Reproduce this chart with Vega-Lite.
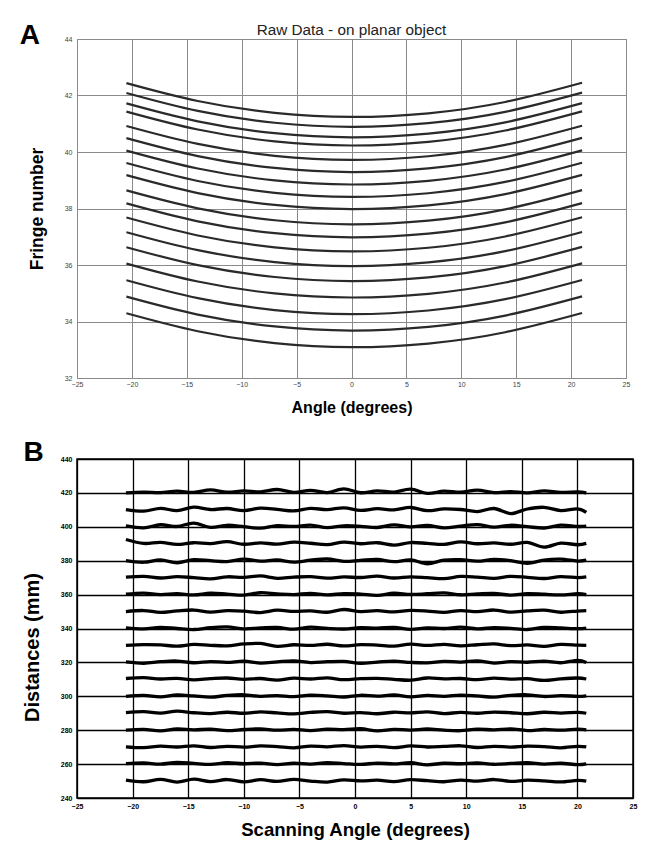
{
"$schema": "https://vega.github.io/schema/vega-lite/v6.json",
"padding": {"left": 19, "top": 21, "right": 5, "bottom": 2},
"background": "white",
"spacing": 22,
"config": {"font": "Liberation Sans", "axis": {"labelFont": "Liberation Sans", "titleFont": "Liberation Sans"}},
"datasets": {
"top": [
{"c":1,"x":-20.5,"y":42.44},{"c":1,"x":-14,"y":41.805},{"c":1,"x":-7,"y":41.385},{"c":1,"x":0,"y":41.24},{"c":1,"x":7,"y":41.37},{"c":1,"x":14,"y":41.77},{"c":1,"x":21,"y":42.45},
{"c":2,"x":-20.5,"y":42.09},{"c":2,"x":-14,"y":41.455},{"c":2,"x":-7,"y":41.035},{"c":2,"x":0,"y":40.89},{"c":2,"x":7,"y":41.02},{"c":2,"x":14,"y":41.42},{"c":2,"x":21,"y":42.10},
{"c":3,"x":-20.5,"y":41.72},{"c":3,"x":-14,"y":41.085},{"c":3,"x":-7,"y":40.665},{"c":3,"x":0,"y":40.52},{"c":3,"x":7,"y":40.65},{"c":3,"x":14,"y":41.05},{"c":3,"x":21,"y":41.73},
{"c":4,"x":-20.5,"y":41.43},{"c":4,"x":-14,"y":40.795},{"c":4,"x":-7,"y":40.375},{"c":4,"x":0,"y":40.23},{"c":4,"x":7,"y":40.36},{"c":4,"x":14,"y":40.76},{"c":4,"x":21,"y":41.44},
{"c":5,"x":-20.5,"y":40.92},{"c":5,"x":-14,"y":40.285},{"c":5,"x":-7,"y":39.865},{"c":5,"x":0,"y":39.72},{"c":5,"x":7,"y":39.85},{"c":5,"x":14,"y":40.25},{"c":5,"x":21,"y":40.93},
{"c":6,"x":-20.5,"y":40.49},{"c":6,"x":-14,"y":39.855},{"c":6,"x":-7,"y":39.435},{"c":6,"x":0,"y":39.29},{"c":6,"x":7,"y":39.42},{"c":6,"x":14,"y":39.82},{"c":6,"x":21,"y":40.50},
{"c":7,"x":-20.5,"y":40.05},{"c":7,"x":-14,"y":39.415},{"c":7,"x":-7,"y":38.995},{"c":7,"x":0,"y":38.85},{"c":7,"x":7,"y":38.98},{"c":7,"x":14,"y":39.38},{"c":7,"x":21,"y":40.06},
{"c":8,"x":-20.5,"y":39.61},{"c":8,"x":-14,"y":38.975},{"c":8,"x":-7,"y":38.555},{"c":8,"x":0,"y":38.41},{"c":8,"x":7,"y":38.54},{"c":8,"x":14,"y":38.94},{"c":8,"x":21,"y":39.62},
{"c":9,"x":-20.5,"y":39.18},{"c":9,"x":-14,"y":38.545},{"c":9,"x":-7,"y":38.125},{"c":9,"x":0,"y":37.98},{"c":9,"x":7,"y":38.11},{"c":9,"x":14,"y":38.51},{"c":9,"x":21,"y":39.19},
{"c":10,"x":-20.5,"y":38.64},{"c":10,"x":-14,"y":38.005},{"c":10,"x":-7,"y":37.585},{"c":10,"x":0,"y":37.44},{"c":10,"x":7,"y":37.57},{"c":10,"x":14,"y":37.97},{"c":10,"x":21,"y":38.65},
{"c":11,"x":-20.5,"y":38.18},{"c":11,"x":-14,"y":37.545},{"c":11,"x":-7,"y":37.125},{"c":11,"x":0,"y":36.98},{"c":11,"x":7,"y":37.11},{"c":11,"x":14,"y":37.51},{"c":11,"x":21,"y":38.19},
{"c":12,"x":-20.5,"y":37.68},{"c":12,"x":-14,"y":37.045},{"c":12,"x":-7,"y":36.625},{"c":12,"x":0,"y":36.48},{"c":12,"x":7,"y":36.61},{"c":12,"x":14,"y":37.01},{"c":12,"x":21,"y":37.69},
{"c":13,"x":-20.5,"y":37.16},{"c":13,"x":-14,"y":36.525},{"c":13,"x":-7,"y":36.105},{"c":13,"x":0,"y":35.96},{"c":13,"x":7,"y":36.09},{"c":13,"x":14,"y":36.49},{"c":13,"x":21,"y":37.17},
{"c":14,"x":-20.5,"y":36.63},{"c":14,"x":-14,"y":35.995},{"c":14,"x":-7,"y":35.575},{"c":14,"x":0,"y":35.43},{"c":14,"x":7,"y":35.56},{"c":14,"x":14,"y":35.96},{"c":14,"x":21,"y":36.64},
{"c":15,"x":-20.5,"y":36.05},{"c":15,"x":-14,"y":35.415},{"c":15,"x":-7,"y":34.995},{"c":15,"x":0,"y":34.85},{"c":15,"x":7,"y":34.98},{"c":15,"x":14,"y":35.38},{"c":15,"x":21,"y":36.06},
{"c":16,"x":-20.5,"y":35.46},{"c":16,"x":-14,"y":34.825},{"c":16,"x":-7,"y":34.405},{"c":16,"x":0,"y":34.26},{"c":16,"x":7,"y":34.39},{"c":16,"x":14,"y":34.79},{"c":16,"x":21,"y":35.47},
{"c":17,"x":-20.5,"y":34.88},{"c":17,"x":-14,"y":34.245},{"c":17,"x":-7,"y":33.825},{"c":17,"x":0,"y":33.68},{"c":17,"x":7,"y":33.81},{"c":17,"x":14,"y":34.21},{"c":17,"x":21,"y":34.89},
{"c":18,"x":-20.5,"y":34.29},{"c":18,"x":-14,"y":33.655},{"c":18,"x":-7,"y":33.235},{"c":18,"x":0,"y":33.09},{"c":18,"x":7,"y":33.22},{"c":18,"x":14,"y":33.62},{"c":18,"x":21,"y":34.30}
],
"labelsTop": [
{"x": -29.3, "y": 43.82, "t": "A", "k": "letter"},
{"x": 0, "y": 44.14, "t": "Raw Data - on planar object", "k": "title"}
],
"bot": [
{"s":420,"x":-20.6,"y":420},{"s":420,"x":-19,"y":420.5},{"s":420,"x":-17.5,"y":420.2},{"s":420,"x":-16,"y":421},{"s":420,"x":-14.5,"y":420.3},{"s":420,"x":-13,"y":421.8},{"s":420,"x":-11.5,"y":420.4},{"s":420,"x":-10,"y":421.2},{"s":420,"x":-8.5,"y":420.6},{"s":420,"x":-7,"y":422},{"s":420,"x":-5.5,"y":420.3},{"s":420,"x":-4,"y":421.5},{"s":420,"x":-2.5,"y":420.2},{"s":420,"x":-1,"y":422.4},{"s":420,"x":0.5,"y":420.1},{"s":420,"x":2,"y":421.2},{"s":420,"x":3.5,"y":420.5},{"s":420,"x":5,"y":422.2},{"s":420,"x":6.5,"y":419.7},{"s":420,"x":8,"y":421},{"s":420,"x":9.5,"y":420.4},{"s":420,"x":11,"y":421.6},{"s":420,"x":12.5,"y":420.2},{"s":420,"x":14,"y":420.8},{"s":420,"x":15.5,"y":420},{"s":420,"x":17,"y":421.2},{"s":420,"x":18.5,"y":420.3},{"s":420,"x":20,"y":420.6},{"s":420,"x":20.8,"y":420},
{"s":410,"x":-20.6,"y":410.2},{"s":410,"x":-19,"y":409.2},{"s":410,"x":-17.5,"y":410.9},{"s":410,"x":-16,"y":409.5},{"s":410,"x":-14.5,"y":411.6},{"s":410,"x":-13,"y":410.2},{"s":410,"x":-11.5,"y":410.8},{"s":410,"x":-10,"y":409.6},{"s":410,"x":-8.5,"y":411},{"s":410,"x":-7,"y":410.3},{"s":410,"x":-5.5,"y":409.4},{"s":410,"x":-4,"y":410.9},{"s":410,"x":-2.5,"y":410.1},{"s":410,"x":-1,"y":411.2},{"s":410,"x":0.5,"y":409.7},{"s":410,"x":2,"y":410.7},{"s":410,"x":3.5,"y":410},{"s":410,"x":5,"y":411.4},{"s":410,"x":6.5,"y":409.5},{"s":410,"x":8,"y":410.6},{"s":410,"x":9.5,"y":410.2},{"s":410,"x":11,"y":409},{"s":410,"x":12.5,"y":410.8},{"s":410,"x":14,"y":407.8},{"s":410,"x":15.5,"y":410.5},{"s":410,"x":17,"y":411.5},{"s":410,"x":18.5,"y":409.6},{"s":410,"x":20,"y":410.6},{"s":410,"x":20.8,"y":408.5},
{"s":400,"x":-20.6,"y":400.5},{"s":400,"x":-19,"y":399.4},{"s":400,"x":-17.5,"y":401.2},{"s":400,"x":-16,"y":400.2},{"s":400,"x":-14.5,"y":402.2},{"s":400,"x":-13,"y":399.7},{"s":400,"x":-11.5,"y":400.9},{"s":400,"x":-10,"y":400.1},{"s":400,"x":-8.5,"y":399.2},{"s":400,"x":-7,"y":400.7},{"s":400,"x":-5.5,"y":400.2},{"s":400,"x":-4,"y":401},{"s":400,"x":-2.5,"y":399.5},{"s":400,"x":-1,"y":400.6},{"s":400,"x":0.5,"y":400.3},{"s":400,"x":2,"y":399.6},{"s":400,"x":3.5,"y":401.1},{"s":400,"x":5,"y":400},{"s":400,"x":6.5,"y":400.8},{"s":400,"x":8,"y":399.4},{"s":400,"x":9.5,"y":400.4},{"s":400,"x":11,"y":401.3},{"s":400,"x":12.5,"y":399.8},{"s":400,"x":14,"y":400.9},{"s":400,"x":15.5,"y":400.1},{"s":400,"x":17,"y":399.3},{"s":400,"x":18.5,"y":401},{"s":400,"x":20,"y":400.2},{"s":400,"x":20.8,"y":400.4},
{"s":390,"x":-20.6,"y":392.5},{"s":390,"x":-19,"y":390.2},{"s":390,"x":-17.5,"y":390.8},{"s":390,"x":-16,"y":389.6},{"s":390,"x":-14.5,"y":390.6},{"s":390,"x":-13,"y":390.1},{"s":390,"x":-11.5,"y":391.2},{"s":390,"x":-10,"y":389.7},{"s":390,"x":-8.5,"y":390.5},{"s":390,"x":-7,"y":389.8},{"s":390,"x":-5.5,"y":390.9},{"s":390,"x":-4,"y":390.3},{"s":390,"x":-2.5,"y":389.5},{"s":390,"x":-1,"y":391},{"s":390,"x":0.5,"y":390},{"s":390,"x":2,"y":390.6},{"s":390,"x":3.5,"y":389.2},{"s":390,"x":5,"y":390.7},{"s":390,"x":6.5,"y":390.2},{"s":390,"x":8,"y":389.6},{"s":390,"x":9.5,"y":391.1},{"s":390,"x":11,"y":390},{"s":390,"x":12.5,"y":390.5},{"s":390,"x":14,"y":389.7},{"s":390,"x":15.5,"y":390.8},{"s":390,"x":17,"y":388},{"s":390,"x":18.5,"y":390.4},{"s":390,"x":20,"y":389.4},{"s":390,"x":20.8,"y":390.2},
{"s":380,"x":-20.6,"y":380},{"s":380,"x":-19,"y":379.1},{"s":380,"x":-17.5,"y":380.5},{"s":380,"x":-16,"y":378.8},{"s":380,"x":-14.5,"y":380.6},{"s":380,"x":-13,"y":380},{"s":380,"x":-11.5,"y":379.5},{"s":380,"x":-10,"y":380.9},{"s":380,"x":-8.5,"y":379.8},{"s":380,"x":-7,"y":380.4},{"s":380,"x":-5.5,"y":379.2},{"s":380,"x":-4,"y":380.3},{"s":380,"x":-2.5,"y":381},{"s":380,"x":-1,"y":379.6},{"s":380,"x":0.5,"y":380.2},{"s":380,"x":2,"y":380.7},{"s":380,"x":3.5,"y":379.4},{"s":380,"x":5,"y":380.5},{"s":380,"x":6.5,"y":378.2},{"s":380,"x":8,"y":380.3},{"s":380,"x":9.5,"y":380.6},{"s":380,"x":11,"y":379.7},{"s":380,"x":12.5,"y":380.8},{"s":380,"x":14,"y":380},{"s":380,"x":15.5,"y":378.5},{"s":380,"x":17,"y":380.4},{"s":380,"x":18.5,"y":380.9},{"s":380,"x":20,"y":379.8},{"s":380,"x":20.8,"y":380.3},
{"s":370,"x":-20.6,"y":370.3},{"s":370,"x":-19,"y":370.8},{"s":370,"x":-17.5,"y":369.8},{"s":370,"x":-16,"y":370.6},{"s":370,"x":-14.5,"y":370},{"s":370,"x":-13,"y":369.3},{"s":370,"x":-11.5,"y":370.5},{"s":370,"x":-10,"y":370.2},{"s":370,"x":-8.5,"y":371},{"s":370,"x":-7,"y":369.6},{"s":370,"x":-5.5,"y":370.3},{"s":370,"x":-4,"y":370.6},{"s":370,"x":-2.5,"y":369.7},{"s":370,"x":-1,"y":370.4},{"s":370,"x":0.5,"y":370.1},{"s":370,"x":2,"y":370.9},{"s":370,"x":3.5,"y":369.8},{"s":370,"x":5,"y":370.5},{"s":370,"x":6.5,"y":370},{"s":370,"x":8,"y":369.4},{"s":370,"x":9.5,"y":370.7},{"s":370,"x":11,"y":370.3},{"s":370,"x":12.5,"y":369.6},{"s":370,"x":14,"y":370.8},{"s":370,"x":15.5,"y":370.2},{"s":370,"x":17,"y":369.5},{"s":370,"x":18.5,"y":370.6},{"s":370,"x":20,"y":370},{"s":370,"x":20.8,"y":370.4},
{"s":360,"x":-20.6,"y":360.2},{"s":360,"x":-19,"y":360.9},{"s":360,"x":-17.5,"y":360},{"s":360,"x":-16,"y":360.5},{"s":360,"x":-14.5,"y":359.8},{"s":360,"x":-13,"y":360.8},{"s":360,"x":-11.5,"y":360.3},{"s":360,"x":-10,"y":359.7},{"s":360,"x":-8.5,"y":361.1},{"s":360,"x":-7,"y":360.4},{"s":360,"x":-5.5,"y":360},{"s":360,"x":-4,"y":360.7},{"s":360,"x":-2.5,"y":359.8},{"s":360,"x":-1,"y":360.6},{"s":360,"x":0.5,"y":360.3},{"s":360,"x":2,"y":359.6},{"s":360,"x":3.5,"y":360.8},{"s":360,"x":5,"y":360.1},{"s":360,"x":6.5,"y":360.5},{"s":360,"x":8,"y":361},{"s":360,"x":9.5,"y":359.9},{"s":360,"x":11,"y":360.4},{"s":360,"x":12.5,"y":360.7},{"s":360,"x":14,"y":359.7},{"s":360,"x":15.5,"y":360.6},{"s":360,"x":17,"y":360.2},{"s":360,"x":18.5,"y":359.8},{"s":360,"x":20,"y":360.5},{"s":360,"x":20.8,"y":360},
{"s":350,"x":-20.6,"y":350},{"s":350,"x":-19,"y":350.6},{"s":350,"x":-17.5,"y":349.5},{"s":350,"x":-16,"y":350.4},{"s":350,"x":-14.5,"y":350.9},{"s":350,"x":-13,"y":349.7},{"s":350,"x":-11.5,"y":350.5},{"s":350,"x":-10,"y":350.2},{"s":350,"x":-8.5,"y":349.4},{"s":350,"x":-7,"y":350.8},{"s":350,"x":-5.5,"y":350.1},{"s":350,"x":-4,"y":350.4},{"s":350,"x":-2.5,"y":349.6},{"s":350,"x":-1,"y":351.2},{"s":350,"x":0.5,"y":350},{"s":350,"x":2,"y":350.5},{"s":350,"x":3.5,"y":349.8},{"s":350,"x":5,"y":350.7},{"s":350,"x":6.5,"y":350.3},{"s":350,"x":8,"y":349.5},{"s":350,"x":9.5,"y":350.6},{"s":350,"x":11,"y":350},{"s":350,"x":12.5,"y":350.9},{"s":350,"x":14,"y":349.7},{"s":350,"x":15.5,"y":350.4},{"s":350,"x":17,"y":350.8},{"s":350,"x":18.5,"y":349.6},{"s":350,"x":20,"y":350.3},{"s":350,"x":20.8,"y":350.6},
{"s":340,"x":-20.6,"y":340.4},{"s":340,"x":-19,"y":339.8},{"s":340,"x":-17.5,"y":340.7},{"s":340,"x":-16,"y":340},{"s":340,"x":-14.5,"y":339.4},{"s":340,"x":-13,"y":340.5},{"s":340,"x":-11.5,"y":340.9},{"s":340,"x":-10,"y":339.8},{"s":340,"x":-8.5,"y":340.3},{"s":340,"x":-7,"y":340.6},{"s":340,"x":-5.5,"y":339.6},{"s":340,"x":-4,"y":340.8},{"s":340,"x":-2.5,"y":340.1},{"s":340,"x":-1,"y":339.7},{"s":340,"x":0.5,"y":340.5},{"s":340,"x":2,"y":340.2},{"s":340,"x":3.5,"y":340.7},{"s":340,"x":5,"y":339.5},{"s":340,"x":6.5,"y":340.4},{"s":340,"x":8,"y":340},{"s":340,"x":9.5,"y":340.8},{"s":340,"x":11,"y":339.8},{"s":340,"x":12.5,"y":340.5},{"s":340,"x":14,"y":340.1},{"s":340,"x":15.5,"y":339.4},{"s":340,"x":17,"y":340.6},{"s":340,"x":18.5,"y":340.3},{"s":340,"x":20,"y":339.9},{"s":340,"x":20.8,"y":340.2},
{"s":330,"x":-20.6,"y":330},{"s":330,"x":-19,"y":330.5},{"s":330,"x":-17.5,"y":330.3},{"s":330,"x":-16,"y":329.6},{"s":330,"x":-14.5,"y":330.6},{"s":330,"x":-13,"y":330.1},{"s":330,"x":-11.5,"y":329.8},{"s":330,"x":-10,"y":330.9},{"s":330,"x":-8.5,"y":331.2},{"s":330,"x":-7,"y":329.5},{"s":330,"x":-5.5,"y":330.4},{"s":330,"x":-4,"y":330},{"s":330,"x":-2.5,"y":330.7},{"s":330,"x":-1,"y":329.7},{"s":330,"x":0.5,"y":330.5},{"s":330,"x":2,"y":330.2},{"s":330,"x":3.5,"y":329.6},{"s":330,"x":5,"y":330.8},{"s":330,"x":6.5,"y":330},{"s":330,"x":8,"y":330.6},{"s":330,"x":9.5,"y":329.8},{"s":330,"x":11,"y":330.4},{"s":330,"x":12.5,"y":330.9},{"s":330,"x":14,"y":329.9},{"s":330,"x":15.5,"y":330.3},{"s":330,"x":17,"y":329.5},{"s":330,"x":18.5,"y":330.6},{"s":330,"x":20,"y":330.2},{"s":330,"x":20.8,"y":330},
{"s":320,"x":-20.6,"y":320.3},{"s":320,"x":-19,"y":319.5},{"s":320,"x":-17.5,"y":320.4},{"s":320,"x":-16,"y":320.8},{"s":320,"x":-14.5,"y":319.8},{"s":320,"x":-13,"y":320.5},{"s":320,"x":-11.5,"y":320},{"s":320,"x":-10,"y":320.7},{"s":320,"x":-8.5,"y":319.6},{"s":320,"x":-7,"y":320.3},{"s":320,"x":-5.5,"y":320.9},{"s":320,"x":-4,"y":319.9},{"s":320,"x":-2.5,"y":320.4},{"s":320,"x":-1,"y":320.6},{"s":320,"x":0.5,"y":319.5},{"s":320,"x":2,"y":320.2},{"s":320,"x":3.5,"y":320.8},{"s":320,"x":5,"y":320},{"s":320,"x":6.5,"y":319.7},{"s":320,"x":8,"y":320.6},{"s":320,"x":9.5,"y":320.2},{"s":320,"x":11,"y":320.9},{"s":320,"x":12.5,"y":319.6},{"s":320,"x":14,"y":320.5},{"s":320,"x":15.5,"y":320.1},{"s":320,"x":17,"y":320.7},{"s":320,"x":18.5,"y":319.8},{"s":320,"x":20,"y":321.2},{"s":320,"x":20.8,"y":320},
{"s":310,"x":-20.6,"y":310.5},{"s":310,"x":-19,"y":311},{"s":310,"x":-17.5,"y":310.2},{"s":310,"x":-16,"y":310.6},{"s":310,"x":-14.5,"y":309.7},{"s":310,"x":-13,"y":310.4},{"s":310,"x":-11.5,"y":310.8},{"s":310,"x":-10,"y":310},{"s":310,"x":-8.5,"y":310.5},{"s":310,"x":-7,"y":309.6},{"s":310,"x":-5.5,"y":310.7},{"s":310,"x":-4,"y":310.2},{"s":310,"x":-2.5,"y":310.9},{"s":310,"x":-1,"y":309.8},{"s":310,"x":0.5,"y":310.4},{"s":310,"x":2,"y":310.6},{"s":310,"x":3.5,"y":310},{"s":310,"x":5,"y":309.5},{"s":310,"x":6.5,"y":310.8},{"s":310,"x":8,"y":310.3},{"s":310,"x":9.5,"y":310.5},{"s":310,"x":11,"y":309.8},{"s":310,"x":12.5,"y":310.7},{"s":310,"x":14,"y":310.1},{"s":310,"x":15.5,"y":310.4},{"s":310,"x":17,"y":309.4},{"s":310,"x":18.5,"y":310.3},{"s":310,"x":20,"y":310.8},{"s":310,"x":20.8,"y":310.2},
{"s":300,"x":-20.6,"y":300},{"s":300,"x":-19,"y":300.6},{"s":300,"x":-17.5,"y":299.7},{"s":300,"x":-16,"y":300.8},{"s":300,"x":-14.5,"y":300.2},{"s":300,"x":-13,"y":299.5},{"s":300,"x":-11.5,"y":300.5},{"s":300,"x":-10,"y":300.9},{"s":300,"x":-8.5,"y":300},{"s":300,"x":-7,"y":300.4},{"s":300,"x":-5.5,"y":299.8},{"s":300,"x":-4,"y":300.7},{"s":300,"x":-2.5,"y":300.3},{"s":300,"x":-1,"y":299.6},{"s":300,"x":0.5,"y":300.6},{"s":300,"x":2,"y":300.1},{"s":300,"x":3.5,"y":300.8},{"s":300,"x":5,"y":299.7},{"s":300,"x":6.5,"y":300.5},{"s":300,"x":8,"y":300},{"s":300,"x":9.5,"y":300.7},{"s":300,"x":11,"y":300.2},{"s":300,"x":12.5,"y":299.5},{"s":300,"x":14,"y":300.6},{"s":300,"x":15.5,"y":300.9},{"s":300,"x":17,"y":299.9},{"s":300,"x":18.5,"y":300.4},{"s":300,"x":20,"y":300},{"s":300,"x":20.8,"y":300.3},
{"s":290,"x":-20.6,"y":290.4},{"s":290,"x":-19,"y":290.9},{"s":290,"x":-17.5,"y":290.1},{"s":290,"x":-16,"y":291.2},{"s":290,"x":-14.5,"y":290.3},{"s":290,"x":-13,"y":289.8},{"s":290,"x":-11.5,"y":290.6},{"s":290,"x":-10,"y":290},{"s":290,"x":-8.5,"y":290.8},{"s":290,"x":-7,"y":290.2},{"s":290,"x":-5.5,"y":289.6},{"s":290,"x":-4,"y":290.5},{"s":290,"x":-2.5,"y":290.9},{"s":290,"x":-1,"y":290},{"s":290,"x":0.5,"y":290.4},{"s":290,"x":2,"y":289.7},{"s":290,"x":3.5,"y":290.6},{"s":290,"x":5,"y":290.2},{"s":290,"x":6.5,"y":290.8},{"s":290,"x":8,"y":289.8},{"s":290,"x":9.5,"y":290.5},{"s":290,"x":11,"y":290},{"s":290,"x":12.5,"y":290.7},{"s":290,"x":14,"y":290.3},{"s":290,"x":15.5,"y":289.7},{"s":290,"x":17,"y":290.6},{"s":290,"x":18.5,"y":290.1},{"s":290,"x":20,"y":290.5},{"s":290,"x":20.8,"y":290},
{"s":280,"x":-20.6,"y":280},{"s":280,"x":-19,"y":280.5},{"s":280,"x":-17.5,"y":279.6},{"s":280,"x":-16,"y":280.7},{"s":280,"x":-14.5,"y":280.2},{"s":280,"x":-13,"y":280.6},{"s":280,"x":-11.5,"y":279.7},{"s":280,"x":-10,"y":280.4},{"s":280,"x":-8.5,"y":280.8},{"s":280,"x":-7,"y":280},{"s":280,"x":-5.5,"y":280.5},{"s":280,"x":-4,"y":279.8},{"s":280,"x":-2.5,"y":280.6},{"s":280,"x":-1,"y":280.3},{"s":280,"x":0.5,"y":280.9},{"s":280,"x":2,"y":279.6},{"s":280,"x":3.5,"y":280.5},{"s":280,"x":5,"y":280.1},{"s":280,"x":6.5,"y":280.7},{"s":280,"x":8,"y":280},{"s":280,"x":9.5,"y":279.7},{"s":280,"x":11,"y":280.6},{"s":280,"x":12.5,"y":280.2},{"s":280,"x":14,"y":280.8},{"s":280,"x":15.5,"y":279.8},{"s":280,"x":17,"y":280.4},{"s":280,"x":18.5,"y":280},{"s":280,"x":20,"y":280.6},{"s":280,"x":20.8,"y":280.2},
{"s":270,"x":-20.6,"y":270.2},{"s":270,"x":-19,"y":269.7},{"s":270,"x":-17.5,"y":270.6},{"s":270,"x":-16,"y":270.1},{"s":270,"x":-14.5,"y":270.8},{"s":270,"x":-13,"y":269.8},{"s":270,"x":-11.5,"y":270.5},{"s":270,"x":-10,"y":270},{"s":270,"x":-8.5,"y":270.7},{"s":270,"x":-7,"y":270.3},{"s":270,"x":-5.5,"y":269.6},{"s":270,"x":-4,"y":270.6},{"s":270,"x":-2.5,"y":270.2},{"s":270,"x":-1,"y":270.9},{"s":270,"x":0.5,"y":270},{"s":270,"x":2,"y":270.5},{"s":270,"x":3.5,"y":269.7},{"s":270,"x":5,"y":270.7},{"s":270,"x":6.5,"y":270.1},{"s":270,"x":8,"y":270.4},{"s":270,"x":9.5,"y":270.8},{"s":270,"x":11,"y":269.8},{"s":270,"x":12.5,"y":270.5},{"s":270,"x":14,"y":270},{"s":270,"x":15.5,"y":270.6},{"s":270,"x":17,"y":270.3},{"s":270,"x":18.5,"y":269.6},{"s":270,"x":20,"y":270.5},{"s":270,"x":20.8,"y":270.1},
{"s":260,"x":-20.6,"y":260.3},{"s":260,"x":-19,"y":260.7},{"s":260,"x":-17.5,"y":260},{"s":260,"x":-16,"y":261},{"s":260,"x":-14.5,"y":260.4},{"s":260,"x":-13,"y":259.8},{"s":260,"x":-11.5,"y":260.8},{"s":260,"x":-10,"y":260.2},{"s":260,"x":-8.5,"y":260.6},{"s":260,"x":-7,"y":259.7},{"s":260,"x":-5.5,"y":260.5},{"s":260,"x":-4,"y":260},{"s":260,"x":-2.5,"y":260.9},{"s":260,"x":-1,"y":260.3},{"s":260,"x":0.5,"y":259.8},{"s":260,"x":2,"y":260.6},{"s":260,"x":3.5,"y":260.1},{"s":260,"x":5,"y":260.8},{"s":260,"x":6.5,"y":259.6},{"s":260,"x":8,"y":260.5},{"s":260,"x":9.5,"y":260.2},{"s":260,"x":11,"y":260.7},{"s":260,"x":12.5,"y":259.9},{"s":260,"x":14,"y":260.4},{"s":260,"x":15.5,"y":260.9},{"s":260,"x":17,"y":260},{"s":260,"x":18.5,"y":260.5},{"s":260,"x":20,"y":259.7},{"s":260,"x":20.8,"y":260.2},
{"s":250,"x":-20.6,"y":250.5},{"s":250,"x":-19,"y":249.6},{"s":250,"x":-17.5,"y":251},{"s":250,"x":-16,"y":249.4},{"s":250,"x":-14.5,"y":251.1},{"s":250,"x":-13,"y":249.7},{"s":250,"x":-11.5,"y":250.9},{"s":250,"x":-10,"y":249.5},{"s":250,"x":-8.5,"y":250.8},{"s":250,"x":-7,"y":249.8},{"s":250,"x":-5.5,"y":251},{"s":250,"x":-4,"y":250},{"s":250,"x":-2.5,"y":249.4},{"s":250,"x":-1,"y":250.7},{"s":250,"x":0.5,"y":250.1},{"s":250,"x":2,"y":250.5},{"s":250,"x":3.5,"y":249.7},{"s":250,"x":5,"y":250.8},{"s":250,"x":6.5,"y":250.2},{"s":250,"x":8,"y":249.6},{"s":250,"x":9.5,"y":250.6},{"s":250,"x":11,"y":250},{"s":250,"x":12.5,"y":250.9},{"s":250,"x":14,"y":249.8},{"s":250,"x":15.5,"y":250.5},{"s":250,"x":17,"y":250.1},{"s":250,"x":18.5,"y":249.5},{"s":250,"x":20,"y":250.4},{"s":250,"x":20.8,"y":250}
]
},
"vconcat": [
{
"width": 549, "height": 339,
"view": {"stroke": "#888", "strokeWidth": 1},
"layer": [
{"data": {"name": "top"},
"mark": {"type": "line", "interpolate": "natural", "stroke": "#2a2a2a", "strokeWidth": 2.2},
"encoding": {
"x": {"field": "x", "type": "quantitative", "scale": {"domain": [-25, 25], "nice": false},
"axis": {"title": "Angle (degrees)", "values": [-25,-20,-15,-10,-5,0,5,10,15,20,25], "tickCount": 12, "grid": true, "gridColor": "#8a8a8a", "gridOpacity": 1, "gridWidth": 1, "ticks": false, "domain": false, "labelOverlap": false, "labelFontSize": 7, "labelColor": "#444", "labelPadding": 2, "labelFlush": false, "titleFontSize": 16, "titleFontWeight": "bold", "titleColor": "#000", "titlePadding": 12}},
"y": {"field": "y", "type": "quantitative", "scale": {"domain": [32, 44], "nice": false, "zero": false},
"axis": {"title": "Fringe number", "values": [32,34,36,38,40,42,44], "tickCount": 8, "grid": true, "gridColor": "#8a8a8a", "gridOpacity": 1, "gridWidth": 1, "ticks": false, "domain": false, "labelOverlap": false, "labelFontSize": 7, "labelColor": "#444", "labelPadding": 5, "labelFlush": false, "titleFontSize": 17.5, "titleFontWeight": "bold", "titleColor": "#000", "titlePadding": 18}},
"detail": {"field": "c", "type": "nominal"}
}},
{"data": {"name": "labelsTop"},
"transform": [{"filter": "datum.k == 'letter'"}],
"mark": {"type": "text", "fontSize": 28, "fontWeight": "bold", "clip": false, "baseline": "alphabetic", "align": "center", "color": "#000", "font": "Liberation Sans"},
"encoding": {"x": {"field": "x", "type": "quantitative"}, "y": {"field": "y", "type": "quantitative"}, "text": {"field": "t"}}},
{"data": {"name": "labelsTop"},
"transform": [{"filter": "datum.k == 'title'"}],
"mark": {"type": "text", "fontSize": 15.3, "fontWeight": "normal", "clip": false, "baseline": "alphabetic", "align": "center", "color": "#222", "font": "Liberation Sans"},
"encoding": {"x": {"field": "x", "type": "quantitative"}, "y": {"field": "y", "type": "quantitative"}, "text": {"field": "t"}}}
]
},
{
"width": 556, "height": 339,
"view": {"stroke": "#000", "strokeWidth": 1.5},
"layer": [
{"data": {"name": "bot"},
"mark": {"type": "line", "interpolate": "cardinal", "stroke": "#000", "strokeWidth": 3.3},
"encoding": {
"x": {"field": "x", "type": "quantitative", "scale": {"domain": [-25, 25], "nice": false},
"axis": {"title": "Scanning Angle (degrees)", "values": [-25,-20,-15,-10,-5,0,5,10,15,20,25], "tickCount": 12, "grid": true, "gridColor": "#000", "gridOpacity": 1, "gridWidth": 1.3, "ticks": false, "domain": false, "labelOverlap": false, "labelFontSize": 7, "labelFontWeight": "bold", "labelColor": "#000", "labelPadding": 4, "labelFlush": false, "titleFontSize": 18.6, "titleFontWeight": "bold", "titleColor": "#000", "titlePadding": 11}},
"y": {"field": "y", "type": "quantitative", "scale": {"domain": [240, 440], "nice": false, "zero": false},
"axis": {"title": "Distances (mm)", "values": [240,260,280,300,320,340,360,380,400,420,440], "tickCount": 12, "grid": true, "gridColor": "#000", "gridOpacity": 1, "gridWidth": 1.3, "ticks": false, "domain": false, "labelOverlap": false, "labelFontSize": 7, "labelFontWeight": "bold", "labelColor": "#000", "labelPadding": 5, "labelFlush": false, "titleFontSize": 20, "titleFontWeight": "bold", "titleColor": "#000", "titlePadding": 18, "titleY": 188}},
"detail": {"field": "s", "type": "nominal"}
}},
{"data": {"values": [{"x": -28.9, "y": 438.8, "t": "B"}]},
"mark": {"type": "text", "fontSize": 28, "fontWeight": "bold", "clip": false, "baseline": "alphabetic", "align": "center", "color": "#000", "font": "Liberation Sans"},
"encoding": {"x": {"field": "x", "type": "quantitative"}, "y": {"field": "y", "type": "quantitative"}, "text": {"field": "t"}}}
]
}
]
}
